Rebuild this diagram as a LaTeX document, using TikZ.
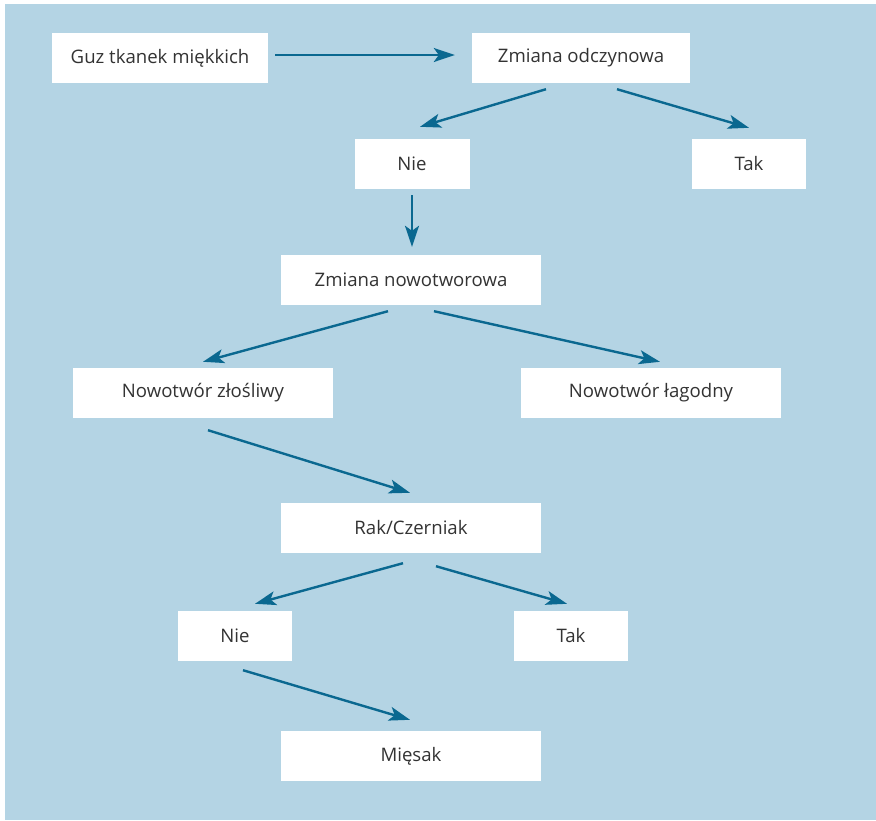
\documentclass[tikz,border=0pt]{standalone}
\usepackage{fontspec}
\setmainfont{Open Sans}
\usetikzlibrary{arrows.meta}
\definecolor{bgblue}{HTML}{B4D4E4}
\definecolor{arrblue}{HTML}{0A6890}
\definecolor{txtgray}{HTML}{333333}

\begin{document}
\begin{tikzpicture}[x=1pt,y=-1pt,
    box/.style={fill=white, text=txtgray, minimum height=50pt, inner sep=0pt,
      font=\fontsize{18.6}{22}\selectfont},
    arr/.style={arrblue, line width=2.4pt,
      -{Stealth[length=21pt,width=14pt,inset=5pt]}}]
    \useasboundingbox (0,0) rectangle (876,820);
    \fill[bgblue] (5,4) rectangle (876,820);

    \node[box, minimum width=216pt] (guz) at (160,58) {Guz tkanek miękkich};
    \node[box, minimum width=218pt] (odcz) at (581,58) {Zmiana odczynowa};
    \node[box, minimum width=115pt] (nie1) at (412,164) {Nie};
    \node[box, minimum width=114pt] (tak1) at (749,164) {Tak};
    \node[box, minimum width=260pt] (nowo) at (411,280) {Zmiana nowotworowa};
    \node[box, minimum width=260pt] (zlos) at (203,393) {Nowotwór złośliwy};
    \node[box, minimum width=260pt] (lag) at (651,393) {Nowotwór łagodny};
    \node[box, minimum width=260pt] (rak) at (411,528) {Rak/Czerniak};
    \node[box, minimum width=114pt] (nie2) at (235,636) {Nie};
    \node[box, minimum width=114pt] (tak2) at (571,636) {Tak};
    \node[box, minimum width=260pt] (miesak) at (411,756) {Mięsak};

    \draw[arr] ([shift={(7,-3)}]guz.east) -- ([shift={(-17,-3)}]odcz.west);
    \draw[arr] ([shift={(-35,6)}]odcz.south) -- ([shift={(8,-12)}]nie1.north);
    \draw[arr] ([shift={(36,6)}]odcz.south) -- ([shift={(0,-11)}]tak1.north);
    \draw[arr] ([shift={(0,6)}]nie1.south) -- ([shift={(1,-8)}]nowo.north);
    \draw[arr] ([shift={(-23,6)}]nowo.south) -- ([shift={(0,-6)}]zlos.north);
    \draw[arr] ([shift={(23,6)}]nowo.south) -- ([shift={(9,-6)}]lag.north);
    \draw[arr] ([shift={(5,12)}]zlos.south) -- ([shift={(-1,-10)}]rak.north);
    \draw[arr] ([shift={(-8,10)}]rak.south) -- ([shift={(20,-7)}]nie2.north);
    \draw[arr] ([shift={(25,13)}]rak.south) -- ([shift={(-4,-7)}]tak2.north);
    \draw[arr] ([shift={(8,9)}]nie2.south) -- ([shift={(-1,-11)}]miesak.north);
\end{tikzpicture}
\end{document}
